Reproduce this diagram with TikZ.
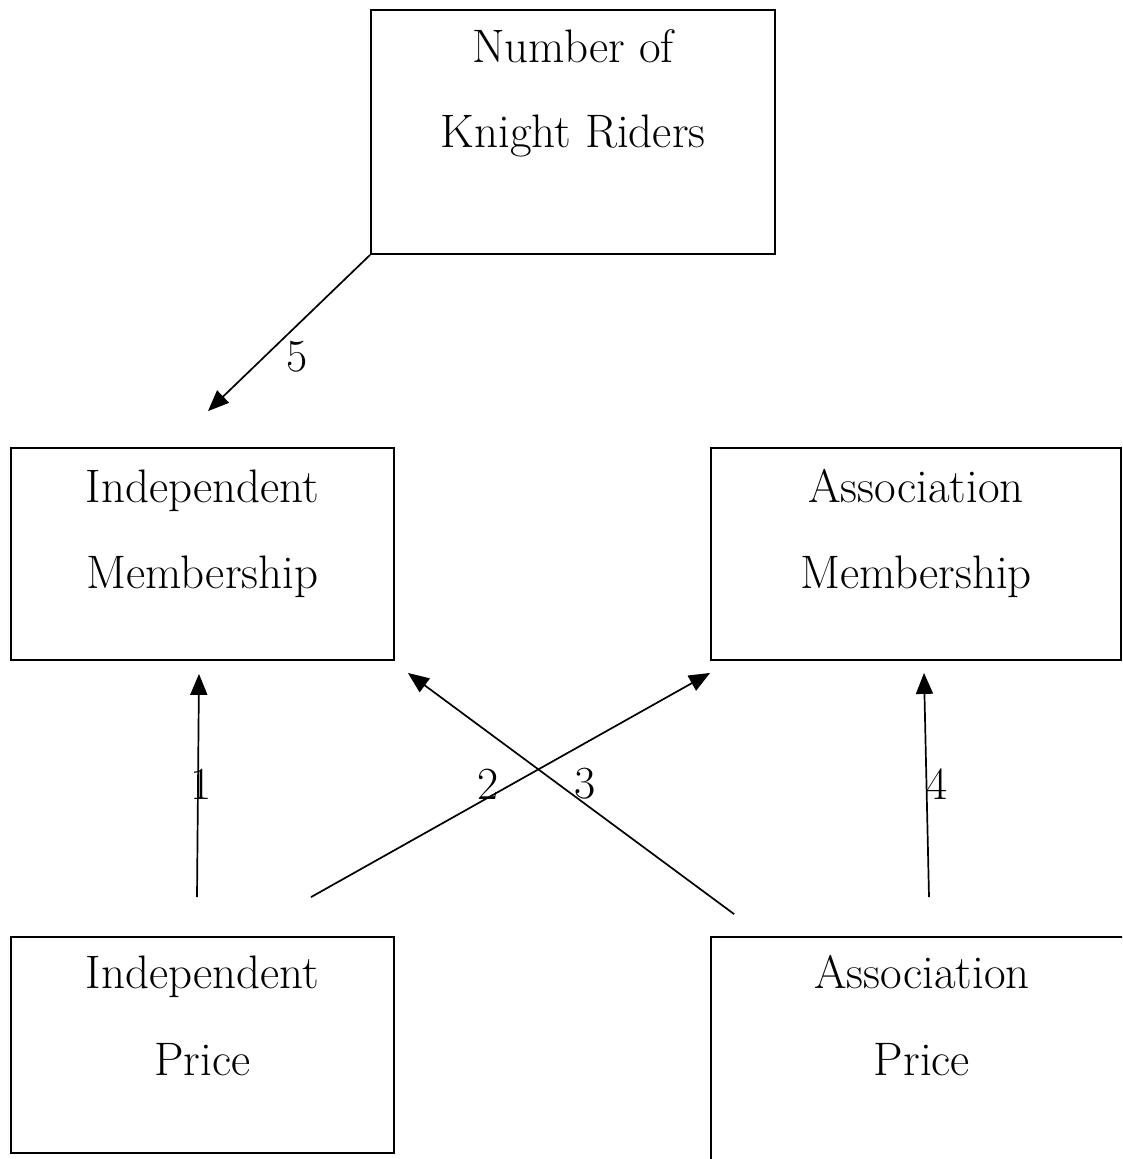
\documentclass[tikz,border=0pt]{standalone}
\usetikzlibrary{arrows.meta,calc}
\begin{document}
\begin{tikzpicture}[x=1pt,y=-1pt,
  box/.style={draw, line width=1.8pt, inner sep=0pt},
  txt/.style={font=\fontsize{47}{52}\selectfont, anchor=base, inner sep=0pt},
  conn/.style={line width=1.7pt, -{Triangle[length=21pt,width=17pt]}},
  num/.style={font=\fontsize{46}{52}\selectfont, inner sep=0pt}]
\useasboundingbox (0,0) rectangle (1122,1159);
\clip (0,0) rectangle (1122,1159);
% boxes
\node[box, minimum width=404pt, minimum height=244pt] (nkr) at (573,132) {};
\node[box, minimum width=383pt, minimum height=212pt] (im) at (202.5,554) {};
\node[box, minimum width=410pt, minimum height=212pt] (am) at (916,554) {};
\node[box, minimum width=383pt, minimum height=216pt] (ip) at (202.5,1045) {};
\node[box, minimum width=422pt, minimum height=243pt] (ap) at (922,1058.5) {};
% texts
\node[txt] (t1) at (573,62) {Number of};
\node[txt] (t2) at (573,147) {Knight Riders};
\node[txt] (t3) at (202.5,502) {Independent};
\node[txt] (t4) at (202.5,588) {Membership};
\node[txt] (t5) at (916,502) {Association};
\node[txt] (t6) at (916,588) {Membership};
\node[txt] (t7) at (202.5,988) {Independent};
\node[txt] (t8) at (202.5,1075) {Price};
\node[txt] (t9) at (922,988) {Association};
\node[txt] (t10) at (922,1075) {Price};
% connectors
\draw[conn] (nkr.south west) -- ($(im.north)+(5.5,-36)$);
\draw[conn] ($(ip.north)+(-5.5,-39)$) -- ($(im.south)+(-3.5,13)$);
\draw[conn] ($(ip.north)+(108.5,-39)$) -- ($(am.south west)+(0,12)$);
\draw[conn] ($(ap.north west)+(24,-22)$) -- ($(im.south east)+(13,12)$);
\draw[conn] ($(ap.north)+(7,-39)$) -- ($(am.south)+(8,12)$);
% labels
\node[num] (l5) at (297,357) {5};
\node[num] (l1) at (201,784) {1};
\node[num] (l2) at (488,784) {2};
\node[num] (l3) at (585,784) {3};
\node[num] (l4) at (937,784) {4};
\end{tikzpicture}
\end{document}
